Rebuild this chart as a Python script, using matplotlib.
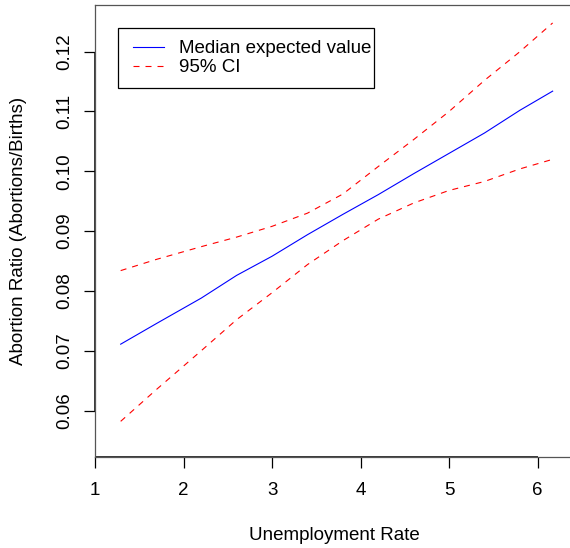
import matplotlib
matplotlib.use("Agg")
import matplotlib.pyplot as plt
from matplotlib.patches import Rectangle

# unemployment rate grid and simulated expected values
unemp = [1.29, 1.7, 2.2, 2.6, 3.0, 3.4, 3.8, 4.2, 4.6, 5.0, 5.4, 5.8, 6.17]
median_ev = [0.0711, 0.0746, 0.0788, 0.0826, 0.0858, 0.0894, 0.0928,
             0.0961, 0.0996, 0.1030, 0.1064, 0.1102, 0.1134]
ci_upper = [0.0834, 0.0853, 0.0874, 0.0890, 0.0908, 0.0930, 0.0962,
            0.1008, 0.1053, 0.1100, 0.1152, 0.1200, 0.1248]
ci_lower = [0.0582, 0.0636, 0.0700, 0.0752, 0.0797, 0.0844, 0.0884,
            0.0920, 0.0947, 0.0968, 0.0983, 0.1004, 0.1020]

xticks = [1, 2, 3, 4, 5, 6]
yticks = [0.06, 0.07, 0.08, 0.09, 0.10, 0.11, 0.12]
ytick_labels = ["0.06", "0.07", "0.08", "0.09", "0.10", "0.11", "0.12"]

plt.rcParams["font.family"] = ["Liberation Sans", "DejaVu Sans"]
FS = 13.5

W, H = 570, 548
fig = plt.figure(figsize=(W / 100, H / 100), dpi=100)
# R-style plot region, right edge runs just off the picture
left, right, top, bottom = 95, 573, 5, 457
ax = fig.add_axes([left / W, 1 - bottom / H, (right - left) / W, (bottom - top) / H])
ax.set_xlim(1, 6.4)
ax.set_ylim(0.05224, 0.1278)

dash = (0, (5.4, 5.4))
ax.plot(unemp, median_ev, color="blue", lw=0.8, label="Median expected value")
ax.plot(unemp, ci_upper, color="red", lw=0.8, ls=dash, label="95% CI")
ax.plot(unemp, ci_lower, color="red", lw=0.8, ls=dash)

for s in ax.spines.values():
    s.set_color("#555555")
    s.set_linewidth(0.9)

# black axis lines between the first and last ticks, like R's axis()
ax.plot([xticks[0], xticks[-1]], [0.05224, 0.05224], color="black", lw=1.1,
        clip_on=False, solid_capstyle="butt")
ax.plot([1, 1], [yticks[0], yticks[-1]], color="black", lw=1.1,
        clip_on=False, solid_capstyle="butt")

ax.set_xticks(xticks)
ax.set_xticklabels([str(v) for v in xticks])
ax.set_yticks(yticks)
ax.set_yticklabels(ytick_labels, rotation=90, va="center")
ax.tick_params(axis="both", direction="out", length=8, width=0.9,
               color="black", labelsize=FS, labelcolor="black")
ax.tick_params(axis="x", pad=10)
ax.tick_params(axis="y", pad=8)

ax.set_xlabel("Unemployment Rate", fontsize=FS, va="center")
ax.xaxis.set_label_coords(0.5, (bottom - 535) / (bottom - top))
ax.set_ylabel("Abortion Ratio (Abortions/Births)", fontsize=FS, va="center")
ax.yaxis.set_label_coords((19 - left) / (right - left), 0.5)

# legend without its own frame; R-style box drawn around it below
leg = ax.legend(loc="upper left",
                bbox_to_anchor=((133 - left) / (right - left), 1 - (40 - top) / (bottom - top)),
                fontsize=FS, frameon=False, borderaxespad=0, borderpad=0,
                handlelength=1.65, handletextpad=0.8, labelspacing=0.1)

fig.canvas.draw()
bb = leg.get_window_extent()
x0, x1 = bb.x0 - 15, bb.x1 + 3
y0, y1 = bb.y0 - 12, bb.y1 + 12
fig.add_artist(Rectangle((x0 / W, y0 / H), (x1 - x0) / W, (y1 - y0) / H,
                         transform=fig.transFigure, fill=False,
                         edgecolor="black", linewidth=0.9))

fig.savefig("out.png", dpi=100)
